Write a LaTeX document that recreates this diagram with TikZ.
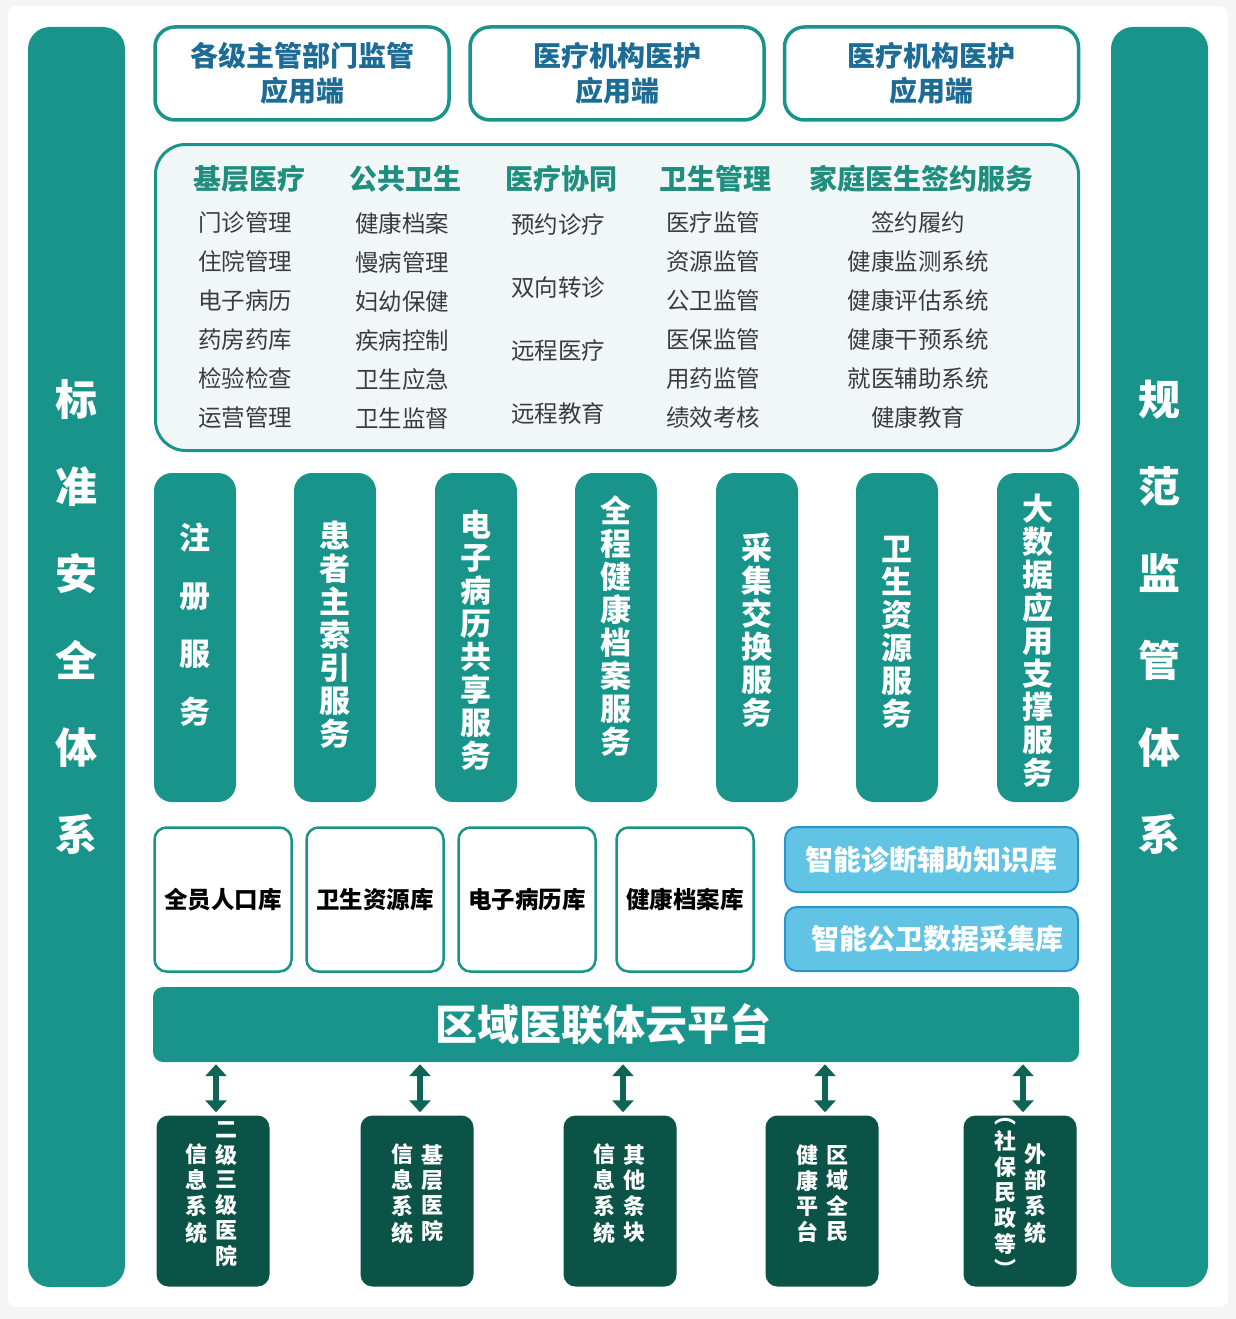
\documentclass[tikz,border=0pt]{standalone}
\usepackage{fontspec}
\setmainfont{Noto Sans CJK SC}
\usetikzlibrary{positioning,arrows.meta}
\definecolor{mainteal}{HTML}{18948A}
\definecolor{headteal}{HTML}{1F8E7E}
\definecolor{appblue}{HTML}{1D6C95}
\definecolor{panelbg}{HTML}{F1F7F7}
\definecolor{itemgray}{HTML}{3C3C3C}
\definecolor{kbfill}{HTML}{62C4E4}
\definecolor{kbline}{HTML}{2A92CC}
\definecolor{sysgreen}{HTML}{0B5247}
\definecolor{linkgreen}{HTML}{0F6456}
\definecolor{pagegray}{HTML}{F5F5F5}
\newcommand\vcol[1]{\begin{tabular}{@{}c@{}}#1\end{tabular}}

\begin{document}
\begin{tikzpicture}[x=1pt,y=-1pt,
  sidebar/.style={fill=mainteal,rounded corners=22pt,minimum width=97pt,minimum height=1260pt,inner sep=0pt},
  sidetext/.style={text=white,align=center,font=\bfseries\fontsize{42}{87}\selectfont},
  appbox/.style={draw=mainteal,line width=3.5pt,fill=white,rounded corners=20pt,minimum width=294pt,minimum height=93pt,text=appblue,align=center,font=\bfseries\fontsize{28}{35}\selectfont},
  head/.style={text=headteal,font=\bfseries\fontsize{28}{30}\selectfont},
  item/.style={text=itemgray,align=center,font=\fontsize{23.5}{39}\selectfont},
  svcbar/.style={fill=mainteal,rounded corners=18pt,minimum width=82pt,minimum height=329pt},
  svctext/.style={text=white,align=center,font=\bfseries\fontsize{31}{33}\selectfont},
  dbbox/.style={draw=mainteal,line width=2.5pt,fill=white,rounded corners=12pt,minimum width=137pt,minimum height=144pt,font=\bfseries\fontsize{23.5}{26}\selectfont},
  kbbox/.style={draw=kbline,line width=2pt,fill=kbfill,rounded corners=12pt,minimum width=293pt,text=white,font=\bfseries\fontsize{28}{30}\selectfont},
  sysbox/.style={fill=sysgreen,rounded corners=12pt,minimum width=113pt,minimum height=171pt,inner sep=0pt},
  systext/.style={text=white,inner sep=0pt,font=\bfseries\fontsize{22}{23.5}\selectfont},
  link/.style={draw=linkgreen,line width=6pt,{Triangle[width=21pt,length=12pt]}-{Triangle[width=21pt,length=12pt]},shorten <=3pt,shorten >=2pt}]
\fill[pagegray] (0,0) rectangle (1236,1319);
\fill[white,rounded corners=8pt] (8,6) rectangle (1228,1307);
\useasboundingbox (0,0) rectangle (1236,1319);

% side systems
\node[sidebar] (std) at (76.5,657) {};
\node[sidetext] (stdtxt) at (76.5,617) {标\\准\\安\\全\\体\\系};
\node[sidebar] (sup) at (1159.5,657) {};
\node[sidetext] (suptxt) at (1159.5,617) {规\\范\\监\\管\\体\\系};

% application ends
\node[appbox] (app1) at (302,73.5) {各级主管部门监管\\应用端};
\node[appbox] (app2) at (617,73.5) {医疗机构医护\\应用端};
\node[appbox] (app3) at (931.5,73.5) {医疗机构医护\\应用端};

% business panel
\node[draw=mainteal,line width=3pt,fill=panelbg,rounded corners=30pt,minimum width=923pt,minimum height=306pt] (panel) at (617,297.5) {};
\node[head] (h1) at (249,179) {基层医疗};
\node[head] (h2) at (405,179) {公共卫生};
\node[head] (h3) at (561,179) {医疗协同};
\node[head] (h4) at (715,179) {卫生管理};
\node[head] (h5) at (921,179) {家庭医生签约服务};
\node[item] (c1) at (245,320.5) {门诊管理\\住院管理\\电子病历\\药房药库\\检验检查\\运营管理};
\node[item] (c2) at (402,320.5) {健康档案\\慢病管理\\妇幼保健\\疾病控制\\卫生应急\\卫生监督};
\node[item,font=\fontsize{23.5}{63}\selectfont] (c3) at (558,319.5) {预约诊疗\\双向转诊\\远程医疗\\远程教育};
\node[item] (c4) at (713,320.5) {医疗监管\\资源监管\\公卫监管\\医保监管\\用药监管\\绩效考核};
\node[item] (c5) at (918,320.5) {签约履约\\健康监测系统\\健康评估系统\\健康干预系统\\就医辅助系统\\健康教育};

% services
\node[svcbar] (svc1) at (195,637.5) {};
\node[svcbar] (svc2) at (335,637.5) {};
\node[svcbar] (svc3) at (476,637.5) {};
\node[svcbar] (svc4) at (616,637.5) {};
\node[svcbar] (svc5) at (757,637.5) {};
\node[svcbar] (svc6) at (897,637.5) {};
\node[svcbar] (svc7) at (1038,637.5) {};
\node[svctext,font=\bfseries\fontsize{31}{58}\selectfont] (svc1txt) at (195,625) {注\\册\\服\\务};
\node[svctext] (svc2txt) at (335,634.5) {患\\者\\主\\索\\引\\服\\务};
\node[svctext] (svc3txt) at (476,640) {电\\子\\病\\历\\共\\享\\服\\务};
\node[svctext] (svc4txt) at (616,626.5) {全\\程\\健\\康\\档\\案\\服\\务};
\node[svctext] (svc5txt) at (757,630) {采\\集\\交\\换\\服\\务};
\node[svctext] (svc6txt) at (897,632) {卫\\生\\资\\源\\服\\务};
\node[svctext] (svc7txt) at (1038,641) {大\\数\\据\\应\\用\\支\\撑\\服\\务};

% databases
\node[dbbox] (db1) at (223,899.5) {全员人口库};
\node[dbbox] (db2) at (375,899.5) {卫生资源库};
\node[dbbox] (db3) at (527,899.5) {电子病历库};
\node[dbbox] (db4) at (685,899.5) {健康档案库};
\node[kbbox,minimum height=65pt] (kb1) at (931.5,859.5) {智能诊断辅助知识库};
\node[kbbox,minimum height=64pt] (kb2) at (931.5,939) {\hspace{12pt}智能公卫数据采集库};

% cloud platform
\node[fill=mainteal,rounded corners=10pt,minimum width=926pt,minimum height=75pt] (cloud) at (616,1024.5) {};
\node[text=white,font=\bfseries\fontsize{42}{44}\selectfont] (cloudtxt) at (603.5,1024.5) {区域医联体云平台};

% connected systems
\node[sysbox] (sys1) at (213,1201) {};
\node[sysbox] (sys2) at (417,1201) {};
\node[sysbox] (sys3) at (620,1201) {};
\node[sysbox] (sys4) at (822,1201) {};
\node[sysbox] (sys5) at (1020,1201) {};
\node[systext] (sys1txt) at (211,1196) {\vcol{信\\息\\系\\统}\hspace{8pt}\vcol{二\\级\\三\\级\\医\\院}};
\node[systext] (sys2txt) at (417,1196) {\vcol{信\\息\\系\\统}\hspace{8pt}\vcol{基\\层\\医\\院}};
\node[systext] (sys3txt) at (619,1196) {\vcol{信\\息\\系\\统}\hspace{8pt}\vcol{其\\他\\条\\块}};
\node[systext] (sys4txt) at (822,1196) {\vcol{健\\康\\平\\台}\hspace{8pt}\vcol{区\\域\\全\\民}};
\node[systext] (sys5txt) at (1020,1196) {\vcol{︵\\社\\保\\民\\政\\等\\︶}\hspace{8pt}\vcol{外\\部\\系\\统}};
\foreach \i in {1,...,5}
  \draw[link] (sys\i.north) ++(3,0) -- ([xshift=3pt]sys\i.north |- cloud.south);
\end{tikzpicture}
\end{document}
